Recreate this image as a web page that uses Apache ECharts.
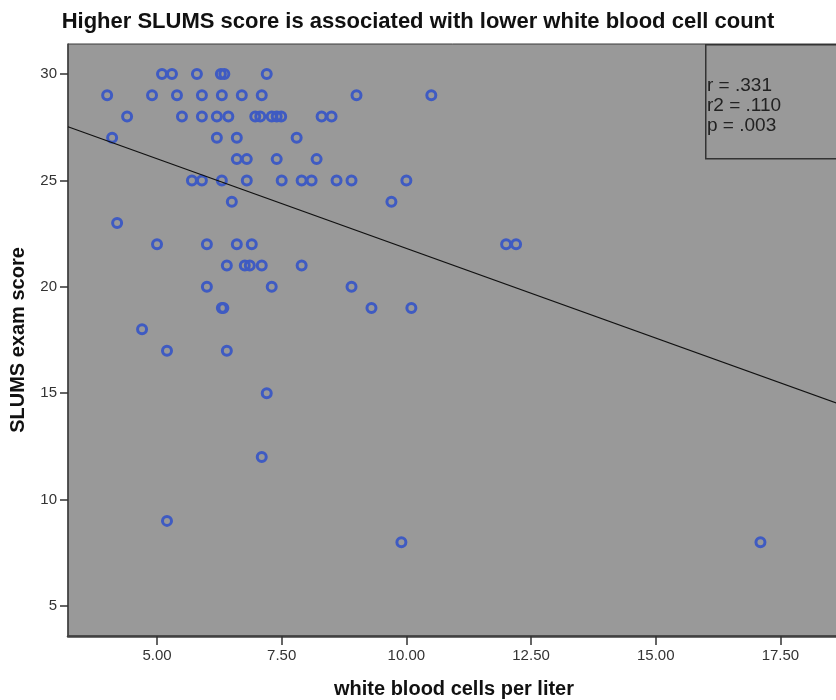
<!DOCTYPE html>
<html>
<head>
<meta charset="utf-8">
<script src="https://cdn.jsdelivr.net/npm/echarts@6/dist/echarts.min.js"></script>
<style>
html,body{margin:0;padding:0;background:#fff;}
#chart{width:836px;height:700px;}
</style>
</head>
<body>
<div id="chart"></div>
<script>
// white blood cells per liter (x) and SLUMS exam score (y)
var wbc = [
  5.1, 5.3, 5.8, 6.28, 6.35, 7.2,
  4.0, 4.9, 5.4, 5.9, 6.3, 6.7, 7.1, 9.0, 10.5,
  4.4, 5.5, 5.9, 6.2, 6.43, 6.97, 7.07, 7.3, 7.4, 7.49, 8.3, 8.5,
  4.1, 6.2, 6.6, 7.8,
  6.6, 6.8, 7.4, 8.2,
  5.7, 5.9, 6.3, 6.8, 7.5, 7.9, 8.1, 8.6, 8.9, 10.0,
  6.5, 9.7,
  4.2,
  5.0, 6.0, 6.6, 6.9, 12.0, 12.2,
  6.4, 6.76, 6.86, 7.1, 7.9,
  6.0, 7.3, 8.9,
  6.3, 6.33, 9.3, 10.1,
  4.7,
  5.2, 6.4,
  7.2,
  7.1,
  5.2,
  9.9, 17.1
];
var slums = [
  30, 30, 30, 30, 30, 30,
  29, 29, 29, 29, 29, 29, 29, 29, 29,
  28, 28, 28, 28, 28, 28, 28, 28, 28, 28, 28, 28,
  27, 27, 27, 27,
  26, 26, 26, 26,
  25, 25, 25, 25, 25, 25, 25, 25, 25, 25,
  24, 24,
  23,
  22, 22, 22, 22, 22, 22,
  21, 21, 21, 21, 21,
  20, 20, 20,
  19, 19, 19, 19,
  18,
  17, 17,
  15,
  12,
  9,
  8, 8
];
// fit line: intercept and slope, drawn across the x range
var fitIntercept = 30.23;
var fitSlope = -0.8425;
var fitX = [3.215, 18.7];
var xTicks = [5, 7.5, 10, 12.5, 15, 17.5];
var yTicks = [5, 10, 15, 20, 25, 30];
var statLines = ['r = .331', 'r2 = .110', 'p = .003'];

var points = wbc.map(function (x, i) { return [x, slums[i]]; });
var fitLine = fitX.map(function (x) { return [x, fitIntercept + fitSlope * x]; });

var chart = echarts.init(document.getElementById('chart'), null, {renderer: 'canvas'});
var FONT = '"Liberation Sans", Arial, sans-serif';
chart.setOption({
  animation: false,
  backgroundColor: '#ffffff',
  title: {
    text: 'Higher SLUMS score is associated with lower white blood cell count',
    left: 'center',
    top: 6,
    textStyle: {fontFamily: FONT, fontSize: 22, fontWeight: 'bold', color: '#111'}
  },
  grid: {
    left: 68, top: 44, width: 772, height: 592,
    outerBoundsMode: 'none',
    containLabel: false,
    show: true, backgroundColor: '#999999',
    borderColor: '#3a3a3a', borderWidth: 1
  },
  xAxis: {
    type: 'value',
    min: 3.215, max: 18.695,
    name: 'white blood cells per liter',
    nameLocation: 'middle',
    nameGap: 43,
    nameTextStyle: {fontFamily: FONT, fontSize: 20, fontWeight: 'bold', color: '#111'},
    axisLine: {show: true, lineStyle: {color: '#404040', width: 2.5}},
    axisTick: {show: true, length: 9, customValues: xTicks, lineStyle: {color: '#333', width: 1.5}},
    axisLabel: {
      customValues: xTicks, margin: 12,
      fontFamily: FONT, fontSize: 15, color: '#333',
      formatter: function (v) { return v.toFixed(2); }
    },
    splitLine: {show: false}
  },
  yAxis: {
    type: 'value',
    min: 3.59, max: 31.41,
    name: 'SLUMS exam score',
    nameLocation: 'middle',
    nameGap: 40,
    nameRotate: 90,
    nameTextStyle: {fontFamily: FONT, fontSize: 20, fontWeight: 'bold', color: '#111'},
    axisLine: {show: true, lineStyle: {color: '#404040', width: 1.5}},
    axisTick: {show: true, length: 8, customValues: yTicks, lineStyle: {color: '#333', width: 1.5}},
    axisLabel: {
      customValues: yTicks, margin: 11,
      fontFamily: FONT, fontSize: 15, color: '#333'
    },
    splitLine: {show: false}
  },
  graphic: [
    {
      type: 'rect', left: 705, top: 44, z: 10,
      shape: {width: 140, height: 114},
      style: {fill: 'rgba(0,0,0,0)', stroke: '#333', lineWidth: 1.5}
    },
    {
      type: 'text', left: 707, top: 76, z: 11,
      style: {text: statLines.join('\n'), font: '19px ' + FONT, fill: '#222', lineHeight: 20}
    }
  ],
  series: [
    {
      type: 'scatter',
      data: points,
      symbol: 'circle',
      symbolSize: 9,
      itemStyle: {color: 'rgba(0,0,0,0)', borderColor: '#3f5bc2', borderWidth: 3, opacity: 1},
      z: 3
    },
    {
      type: 'line',
      data: fitLine,
      symbol: 'none',
      lineStyle: {color: '#111', width: 1.3},
      silent: true,
      z: 4
    }
  ]
});
</script>
</body>
</html>
